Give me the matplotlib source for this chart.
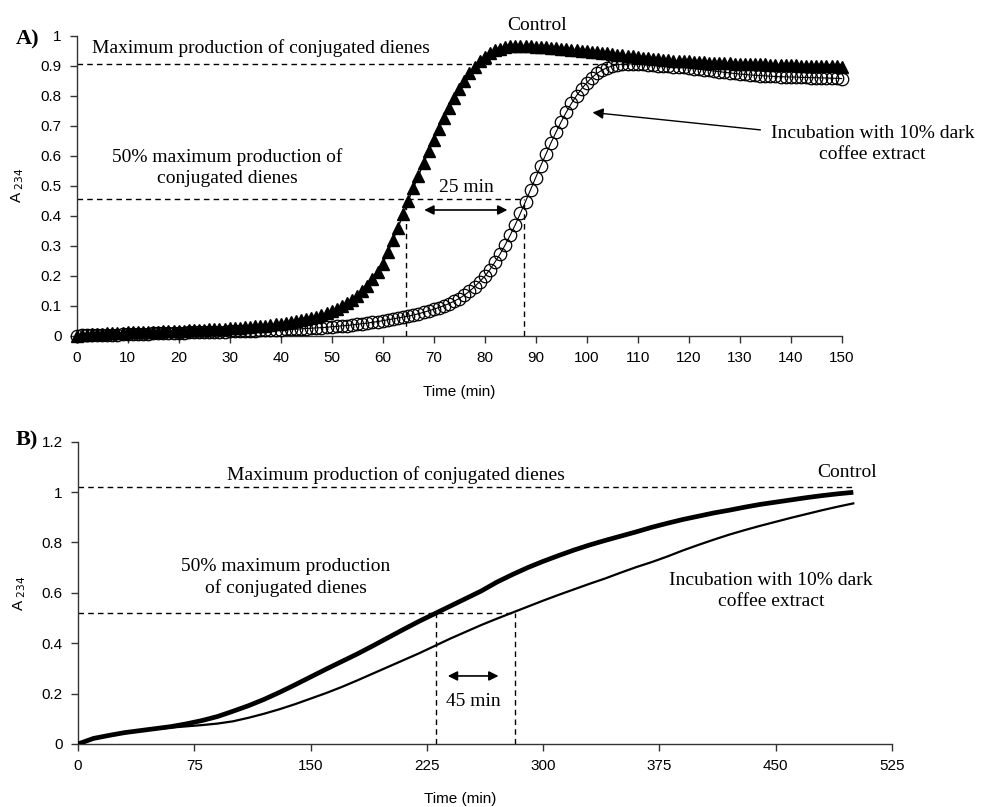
import matplotlib
matplotlib.use("Agg")
import matplotlib.pyplot as plt
import numpy as np

# ---------------- Panel A data (1-min sampling, 0..150 min) ----------------
time_a = list(range(0, 151))
control_a = [
    0.000, 0.002, 0.004, 0.005, 0.006, 0.007, 0.008, 0.009, 0.010, 0.010,
    0.011, 0.012, 0.012, 0.013, 0.013, 0.014, 0.014, 0.015, 0.015, 0.016,
    0.017, 0.017, 0.018, 0.019, 0.019, 0.020, 0.021, 0.022, 0.023, 0.024,
    0.025, 0.026, 0.027, 0.028, 0.029, 0.031, 0.032, 0.034, 0.036, 0.038,
    0.040, 0.042, 0.045, 0.048, 0.051, 0.055, 0.059, 0.064, 0.069, 0.075,
    0.082, 0.090, 0.099, 0.109, 0.120, 0.133, 0.148, 0.166, 0.188, 0.213,
    0.240, 0.278, 0.318, 0.360, 0.405, 0.450, 0.492, 0.533, 0.574, 0.614,
    0.652, 0.690, 0.726, 0.760, 0.792, 0.822, 0.850, 0.875, 0.897, 0.915,
    0.930, 0.942, 0.951, 0.957, 0.961, 0.964, 0.965, 0.966, 0.965, 0.964,
    0.963, 0.962, 0.961, 0.959, 0.958, 0.956, 0.955, 0.953, 0.952, 0.950,
    0.948, 0.947, 0.945, 0.943, 0.941, 0.939, 0.937, 0.935, 0.933, 0.931,
    0.929, 0.927, 0.925, 0.923, 0.922, 0.920, 0.919, 0.917, 0.916, 0.915,
    0.914, 0.913, 0.912, 0.911, 0.910, 0.910, 0.909, 0.908, 0.908, 0.907,
    0.906, 0.906, 0.905, 0.905, 0.904, 0.904, 0.903, 0.903, 0.902, 0.902,
    0.901, 0.901, 0.900, 0.900, 0.899, 0.899, 0.899, 0.898, 0.898, 0.898,
    0.897,
]
coffee_a = [
    0.000, 0.001, 0.001, 0.002, 0.002, 0.003, 0.003, 0.004, 0.004, 0.005,
    0.005, 0.006, 0.006, 0.007, 0.007, 0.008, 0.008, 0.009, 0.009, 0.010,
    0.010, 0.010, 0.011, 0.011, 0.012, 0.012, 0.013, 0.013, 0.014, 0.014,
    0.015, 0.015, 0.016, 0.016, 0.017, 0.017, 0.018, 0.018, 0.019, 0.019,
    0.020, 0.021, 0.021, 0.022, 0.023, 0.024, 0.025, 0.026, 0.027, 0.028,
    0.030, 0.031, 0.033, 0.034, 0.036, 0.038, 0.040, 0.042, 0.045, 0.047,
    0.050, 0.053, 0.056, 0.059, 0.062, 0.065, 0.069, 0.073, 0.078, 0.083,
    0.088, 0.094, 0.100, 0.107, 0.115, 0.124, 0.135, 0.148, 0.163, 0.180,
    0.198, 0.220, 0.245, 0.272, 0.302, 0.335, 0.370, 0.408, 0.447, 0.487,
    0.527, 0.567, 0.605, 0.643, 0.679, 0.713, 0.745, 0.774, 0.800, 0.823,
    0.843, 0.860, 0.874, 0.885, 0.893, 0.899, 0.903, 0.905, 0.906, 0.906,
    0.905, 0.904, 0.903, 0.902, 0.900, 0.899, 0.898, 0.896, 0.895, 0.894,
    0.892, 0.890, 0.888, 0.886, 0.884, 0.882, 0.880, 0.878, 0.876, 0.874,
    0.872, 0.871, 0.869, 0.868, 0.867, 0.866, 0.865, 0.864, 0.863, 0.863,
    0.862, 0.862, 0.861, 0.861, 0.860, 0.860, 0.859, 0.859, 0.858, 0.858,
    0.857,
]
xticks_a = list(range(0, 151, 10))
yticks_a = [0, 0.1, 0.2, 0.3, 0.4, 0.5, 0.6, 0.7, 0.8, 0.9, 1]
ytick_labels_a = ["0", "0.1", "0.2", "0.3", "0.4", "0.5", "0.6", "0.7", "0.8", "0.9", "1"]
max_a = 0.905
half_a = 0.455
half_t_control_a = 64.6
half_t_coffee_a = 87.7

# ---------------- Panel B data (0..500 min) ----------------
time_b = list(range(0, 501, 10))
control_b = [
    0.000, 0.022, 0.034, 0.045, 0.053, 0.061, 0.069, 0.080, 0.093, 0.109,
    0.130, 0.152, 0.177, 0.205, 0.235, 0.266, 0.297, 0.327, 0.357, 0.389,
    0.422, 0.455, 0.487, 0.517, 0.547, 0.577, 0.607, 0.642, 0.672, 0.700,
    0.725, 0.748, 0.770, 0.790, 0.808, 0.825, 0.842, 0.860, 0.876, 0.891,
    0.904, 0.917, 0.928, 0.940, 0.951, 0.960, 0.969, 0.978, 0.986, 0.993,
    0.999,
]
coffee_b = [
    0.000, 0.020, 0.032, 0.043, 0.052, 0.059, 0.065, 0.070, 0.075, 0.081,
    0.090, 0.104, 0.120, 0.138, 0.158, 0.180, 0.202, 0.226, 0.252, 0.279,
    0.306, 0.333, 0.360, 0.389, 0.418, 0.445, 0.472, 0.497, 0.521, 0.545,
    0.569, 0.592, 0.614, 0.636, 0.657, 0.680, 0.702, 0.722, 0.744, 0.768,
    0.790, 0.811, 0.831, 0.849, 0.866, 0.882, 0.898, 0.913, 0.928, 0.942,
    0.955,
]
xticks_b = [0, 75, 150, 225, 300, 375, 450, 525]
yticks_b = [0, 0.2, 0.4, 0.6, 0.8, 1, 1.2]
ytick_labels_b = ["0", "0.2", "0.4", "0.6", "0.8", "1", "1.2"]
max_b = 1.021
half_b = 0.521
half_t_control_b = 230.7
half_t_coffee_b = 281.8
end_b = 499

SANS = "Liberation Sans"
SERIF = "Liberation Serif"
TICK_FS = 11
ANN_FS = 14
LS = 1.3

fig = plt.figure(figsize=(9.87, 8.07), dpi=100)
axA = fig.add_axes([0.0777, 0.584, 0.7751, 0.3718])
axB = fig.add_axes([0.0790, 0.0781, 0.8248, 0.3746])

def style(ax):
    for s in ("top", "right"):
        ax.spines[s].set_visible(False)
    for s in ("left", "bottom"):
        ax.spines[s].set_color("#333333")
        ax.spines[s].set_linewidth(1.0)
    ax.tick_params(direction="out", length=5, width=1.0, color="#333333",
                   labelsize=TICK_FS, pad=6)
    for lab in ax.get_xticklabels() + ax.get_yticklabels():
        lab.set_fontfamily(SANS)

dash = dict(color="black", linestyle=(0, (4, 3)), linewidth=1.0)

# ---- Panel A ----
axA.plot(time_a, coffee_a, color="black", linewidth=0.8, marker="o",
         markersize=9, markerfacecolor="none", markeredgecolor="black",
         markeredgewidth=0.9, zorder=3, clip_on=False)
axA.plot(time_a, control_a, color="black", linewidth=1.0, marker="^",
         markersize=9, markerfacecolor="black", markeredgecolor="black",
         zorder=4, clip_on=False)
axA.plot([0, 150], [max_a, max_a], **dash, zorder=2)
axA.plot([0, half_t_coffee_a], [half_a, half_a], **dash, zorder=2)
axA.plot([half_t_control_a, half_t_control_a], [0, half_a], **dash, zorder=2)
axA.plot([half_t_coffee_a, half_t_coffee_a], [0, half_a], **dash, zorder=2)
axA.set_xlim(0, 150)
axA.set_ylim(0, 1)
axA.set_xticks(xticks_a)
axA.set_yticks(yticks_a)
axA.set_yticklabels(ytick_labels_a)
style(axA)
axA.set_xlabel("Time (min)", fontfamily=SANS, fontsize=TICK_FS, labelpad=10)
axA.set_ylabel(r"A$_{\ 234}$", fontfamily=SANS, fontsize=TICK_FS, labelpad=10)
axA.xaxis.set_label_coords(0.5, -0.165)

axA.text(3, 0.96, "Maximum production of conjugated dienes", fontfamily=SERIF,
         fontsize=ANN_FS, ha="left", va="center")
axA.text(29.5, 0.56, "50% maximum production of\nconjugated dienes",
         fontfamily=SERIF, fontsize=ANN_FS, ha="center", va="center",
         linespacing=LS)
axA.text(76.5, 0.495, "25 min", fontfamily=SERIF, fontsize=ANN_FS,
         ha="center", va="center")
axA.annotate("", xy=(67.6, 0.419), xytext=(85.0, 0.419),
             arrowprops=dict(arrowstyle="<|-|>", color="black", lw=1.2,
                             mutation_scale=14))
axA.text(90.3, 1.035, "Control", fontfamily=SERIF, fontsize=ANN_FS,
         ha="center", va="center", clip_on=False)
axA.text(156, 0.64, "Incubation with 10% dark\ncoffee extract",
         fontfamily=SERIF, fontsize=ANN_FS, ha="center", va="center",
         linespacing=LS, clip_on=False)
axA.annotate("", xy=(100.6, 0.745), xytext=(134.6, 0.685),
             arrowprops=dict(arrowstyle="-|>", color="black", lw=1.0,
                             mutation_scale=16))
fig.text(0.016, 0.951, "A)", fontfamily=SERIF, fontweight="bold",
         fontsize=16, ha="left", va="center")

# ---- Panel B ----
axB.plot(time_b, control_b, color="black", linewidth=3.4, zorder=4,
         solid_capstyle="butt")
axB.plot(time_b, coffee_b, color="black", linewidth=1.6, zorder=3)
axB.plot([0, end_b], [max_b, max_b], **dash, zorder=2)
axB.plot([0, half_t_coffee_b], [half_b, half_b], **dash, zorder=2)
axB.plot([half_t_control_b, half_t_control_b], [0, half_b], **dash, zorder=2)
axB.plot([half_t_coffee_b, half_t_coffee_b], [0, half_b], **dash, zorder=2)
axB.set_xlim(0, 525)
axB.set_ylim(0, 1.2)
axB.set_xticks(xticks_b)
axB.set_yticks(yticks_b)
axB.set_yticklabels(ytick_labels_b)
style(axB)
axB.set_xlabel("Time (min)", fontfamily=SANS, fontsize=TICK_FS)
axB.xaxis.set_label_coords(0.47, -0.16)
axB.set_ylabel(r"A$_{\ 234}$", fontfamily=SANS, fontsize=TICK_FS, labelpad=10)

axB.text(205, 1.067, "Maximum production of conjugated dienes",
         fontfamily=SERIF, fontsize=ANN_FS, ha="center", va="center")
axB.text(496, 1.078, "Control", fontfamily=SERIF, fontsize=ANN_FS,
         ha="center", va="center")
axB.text(134, 0.659, "50% maximum production\nof conjugated dienes",
         fontfamily=SERIF, fontsize=ANN_FS, ha="center", va="center",
         linespacing=LS)
axB.text(447, 0.607, "Incubation with 10% dark\ncoffee extract",
         fontfamily=SERIF, fontsize=ANN_FS, ha="center", va="center",
         linespacing=LS)
axB.text(255, 0.17, "45 min", fontfamily=SERIF, fontsize=ANN_FS,
         ha="center", va="center")
axB.annotate("", xy=(236.7, 0.27), xytext=(273.0, 0.27),
             arrowprops=dict(arrowstyle="<|-|>", color="black", lw=1.2,
                             mutation_scale=14))
fig.text(0.016, 0.454, "B)", fontfamily=SERIF, fontweight="bold",
         fontsize=16, ha="left", va="center")

fig.savefig("out.png", dpi=100)
